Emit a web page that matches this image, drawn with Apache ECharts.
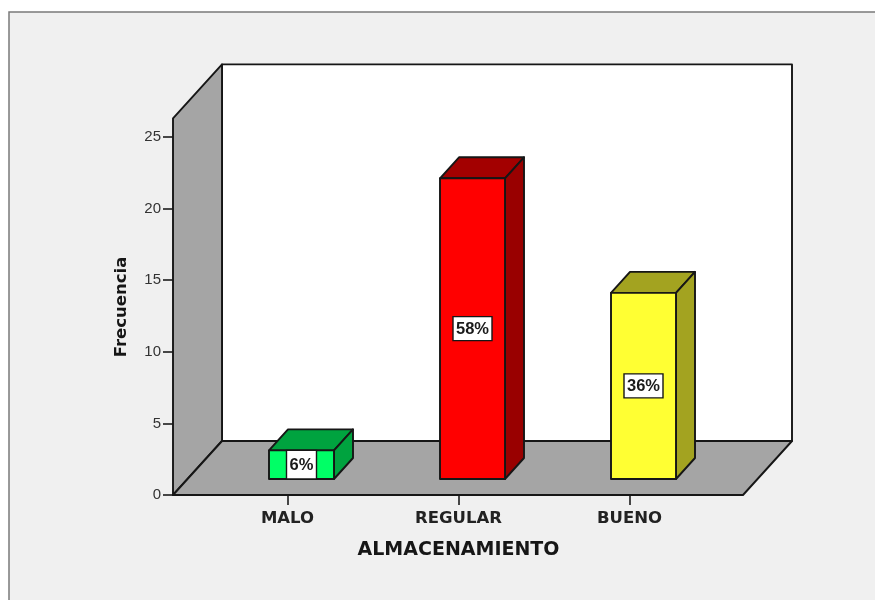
<!DOCTYPE html>
<html><head><meta charset="utf-8">
<style>html,body{margin:0;padding:0;background:#fff}#c{width:875px;height:600px}</style>
<script src="https://cdn.jsdelivr.net/npm/echarts@6/dist/echarts.min.js"></script>
</head><body><div id="c"></div>
<script>
const categories = ['MALO', 'REGULAR', 'BUENO'];
const counts = [2, 21, 13];
const percents = ['6%', '58%', '36%'];
const frontColors = ['#00ff66', '#ff0000', '#ffff33'];
const topColors = ['#00a33f', '#a30000', '#a3a320'];
const sideColors = ['#00a33f', '#990000', '#a3a320'];
const yTicks = [0, 25];
const yInterval = 5;
const wallTopValue = 26.3;

const DEPTH_X = 49, DEPTH_Y = 54, SIDE_PAD_L = 29, SIDE_PAD_R = 28;
const BAR_W = 65, BAR_DX = 19, BAR_DY = 21, BAR_OFF_X = 14, BAR_OFF_Y = 16;
const INK = '#161616', FONT = '"Liberation Sans", Arial, sans-serif', WIDE = '"DejaVu Sans", sans-serif';
const lineStyle = {stroke: INK, lineWidth: 1.9, lineJoin: 'round'};

function poly(points, fill) {
  return {type: 'polygon', shape: {points}, style: {fill, ...lineStyle}};
}
function renderWalls(params, api) {
  const cs = params.coordSys;
  const l = cs.x - SIDE_PAD_L, r = cs.x + cs.width + SIDE_PAD_R;
  const y0 = api.coord([0, 0])[1], yt = api.coord([0, wallTopValue])[1];
  const wall = '#a5a5a5';
  return {type: 'group', children: [
    poly([[l + DEPTH_X, yt - DEPTH_Y], [r + DEPTH_X, yt - DEPTH_Y], [r + DEPTH_X, y0 - DEPTH_Y], [l + DEPTH_X, y0 - DEPTH_Y]], '#ffffff'),
    poly([[l, y0], [l, yt], [l + DEPTH_X, yt - DEPTH_Y], [l + DEPTH_X, y0 - DEPTH_Y]], wall),
    poly([[l, y0], [r, y0], [r + DEPTH_X, y0 - DEPTH_Y], [l + DEPTH_X, y0 - DEPTH_Y]], wall)
  ]};
}
function renderBar(params, api) {
  const i = params.dataIndex;
  const base = api.coord([i, 0]), top = api.coord([i, api.value(1)]);
  const x0 = base[0] + BAR_OFF_X - BAR_W / 2, x1 = x0 + BAR_W;
  const yb = base[1] - BAR_OFF_Y, yt = top[1] - BAR_OFF_Y;
  const cx = (x0 + x1) / 2, cy = (yb + yt) / 2, faceH = yb - yt;
  const txt = percents[i];
  const bw = txt.length < 3 ? 30 : 39, bh = faceH < 32 ? faceH : 24;
  return {type: 'group', children: [
    poly([[x0, yt], [x1, yt], [x1 + BAR_DX, yt - BAR_DY], [x0 + BAR_DX, yt - BAR_DY]], topColors[i]),
    poly([[x1, yb], [x1, yt], [x1 + BAR_DX, yt - BAR_DY], [x1 + BAR_DX, yb - BAR_DY]], sideColors[i]),
    poly([[x0, yb], [x1, yb], [x1, yt], [x0, yt]], frontColors[i]),
    {type: 'rect', shape: {x: cx - bw / 2, y: cy - bh / 2, width: bw, height: bh},
     style: {fill: '#ffffff', stroke: INK, lineWidth: 1.4}},
    {type: 'text', style: {x: cx, y: cy + 0.5, text: txt, fill: '#1a1a1a', align: 'center', verticalAlign: 'middle',
      font: 'bold 16.5px ' + FONT}}
  ]};
}

const chart = echarts.init(document.getElementById('c'), null, {renderer: 'canvas'});
chart.setOption({
  animation: false,
  backgroundColor: '#ffffff',
  graphic: [{type: 'rect', z: -10, silent: true, shape: {x: 9, y: 12, width: 900, height: 620},
    style: {fill: '#f0f0f0', stroke: '#7a7a7a', lineWidth: 1.5}}],
  grid: {left: 202, right: 160, top: 137, bottom: 105},
  xAxis: {
    type: 'category', data: categories,
    name: 'ALMACENAMIENTO', nameLocation: 'middle', nameGap: 46,
    nameTextStyle: {fontFamily: WIDE, fontWeight: 'bold', fontSize: 19, color: '#161616'},
    axisLine: {show: false},
    axisTick: {show: true, alignWithLabel: true, length: 10, lineStyle: {color: '#333', width: 1.8}},
    axisLabel: {fontFamily: WIDE, fontWeight: 'bold', fontSize: 16.5, color: '#222', margin: 15}
  },
  yAxis: {
    type: 'value', min: yTicks[0], max: yTicks[1], interval: yInterval, offset: 29,
    name: 'Frecuencia', nameLocation: 'middle', nameGap: 43,
    nameTextStyle: {fontFamily: WIDE, fontWeight: 'bold', fontSize: 16.5, color: '#161616', padding: [0, 0, 0, 18]},
    splitLine: {show: false},
    axisLine: {show: false},
    axisTick: {show: true, length: 10, lineStyle: {color: '#333', width: 1.8}},
    axisLabel: {fontFamily: FONT, fontSize: 15, color: '#333', margin: 12, padding: [3, 0, 0, 0]}
  },
  series: [
    {type: 'custom', z: 1, silent: true, renderItem: renderWalls, data: [[0, 0]], encode: {x: 0, y: 1}},
    {type: 'custom', z: 2, silent: true, renderItem: renderBar, encode: {x: 0, y: 1},
     data: counts.map((v, i) => [i, v])}
  ]
});
</script></body></html>
